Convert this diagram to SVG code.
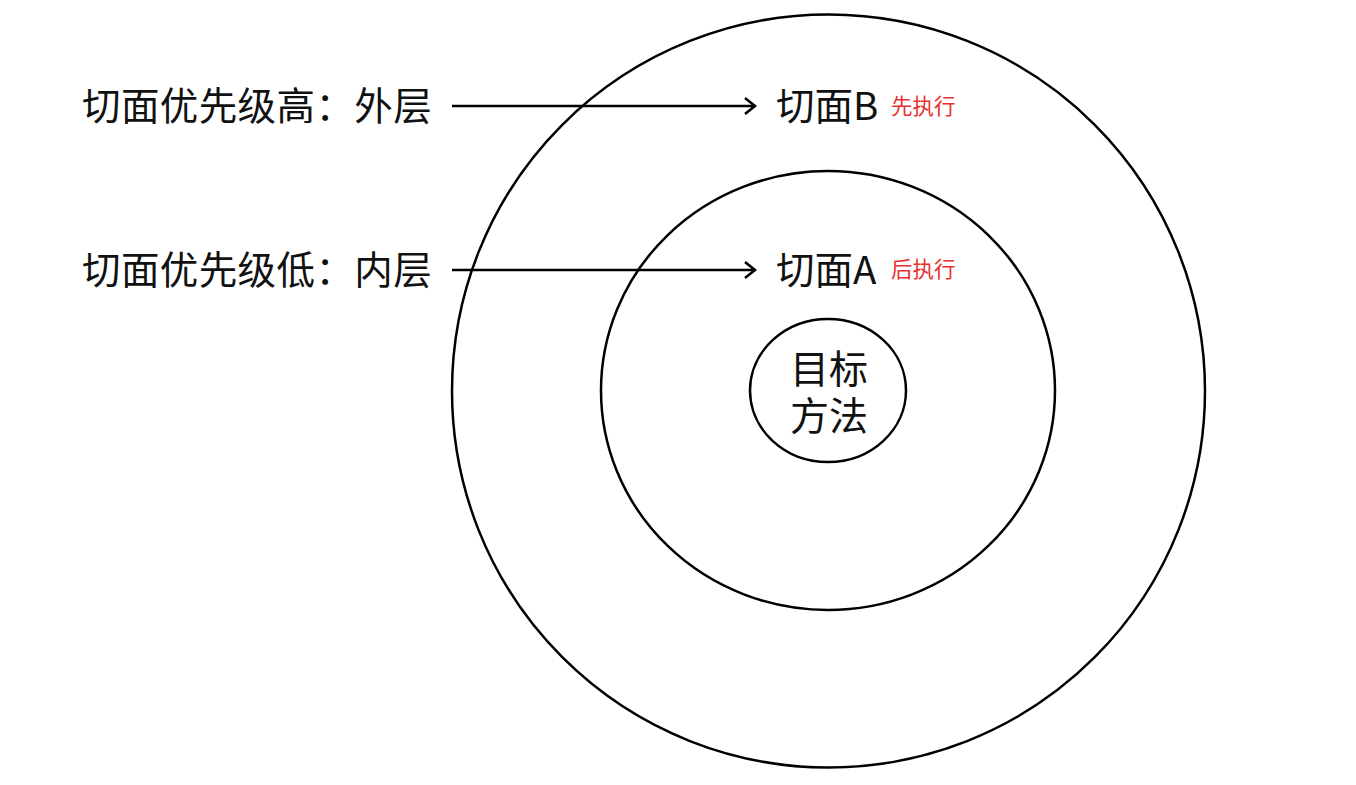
<svg xmlns="http://www.w3.org/2000/svg" width="1356" height="785" viewBox="0 0 1356 785">
<defs>
<style>
.ring{fill:none;stroke:#000;stroke-width:2.5}
.t{font-family:"Microsoft YaHei","Noto Sans CJK SC","Noto Sans",sans-serif;fill:#111}
.big{font-size:38.5px}
.lbl{letter-spacing:0.4px}
.mid{font-size:39px}
.red{font-size:21.5px;fill:#e8302f}
.conn{fill:none;stroke:#000;stroke-width:2.5}
</style>
<marker id="arr" markerWidth="14" markerHeight="20" refX="12" refY="10" orient="auto" markerUnits="userSpaceOnUse">
<path d="M2,2 L12,10 L2,18" fill="none" stroke="#000" stroke-width="2.5"/>
</marker>
</defs>
<rect width="1356" height="785" fill="#fff"/>
<g id="outer"><ellipse class="ring" cx="828.5" cy="391" rx="376.5" ry="376.5"/></g>
<g id="middle"><ellipse class="ring" cx="828" cy="390.5" rx="227" ry="219.5"/></g>
<g id="inner"><ellipse class="ring" cx="828" cy="390.5" rx="78" ry="71.5"/>
<text class="t mid" text-anchor="middle"><tspan x="829" y="383">目标</tspan><tspan x="829" y="430">方法</tspan></text></g>
<g id="labelHigh"><text class="t big lbl" x="82" y="120">切面优先级高：外层</text></g>
<g id="labelLow"><text class="t big lbl" x="82" y="284">切面优先级低：内层</text></g>
<g id="aspectB"><text class="t big" x="776" y="120">切面B</text><text class="t red" x="891" y="114">先执行</text></g>
<g id="aspectA"><text class="t big" x="776" y="284">切面A</text><text class="t red" x="891" y="277">后执行</text></g>
<g id="connectors">
<line class="conn" x1="452" y1="106" x2="755" y2="106" marker-end="url(#arr)"/>
<line class="conn" x1="452" y1="270" x2="755" y2="270" marker-end="url(#arr)"/>
</g>
</svg>
